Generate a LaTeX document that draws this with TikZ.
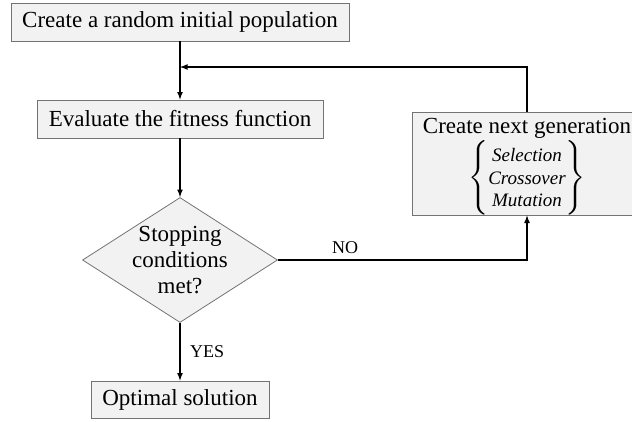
\documentclass[tikz,border=0pt]{standalone}
\usepackage{fontspec}
\setmainfont{Liberation Serif}
\usepackage{amsmath}
\usetikzlibrary{shapes.geometric}

\begin{document}
\begin{tikzpicture}[x=1pt, y=1pt, font=\fontsize{23}{26}\selectfont,
    box/.style={draw=black!55, fill=black!5, line width=0.8pt, inner sep=2pt},
    flow/.style={line width=1.6pt, -latex},
    tag/.style={font=\fontsize{18}{20}\selectfont}]
  \useasboundingbox (0,0) rectangle (632,-421);
  \begin{scope}
  \clip (0,0) rectangle (632,-421);
  \node[box, minimum width=338, minimum height=38] (init) at (180,-22) {Create a random initial population};
  \node[box, minimum width=286, minimum height=38] (eval) at (180,-119) {Evaluate the fitness function};
  \node[box, diamond, minimum width=195, minimum height=125, inner sep=0pt] (stop) at (180,-260) {};
  \node[align=center, inner sep=0pt] (stoptext) at (stop.center) {Stopping\\conditions\\met?};
  \node[box, minimum width=230, minimum height=103] (next) at (527,-163.5) {};
  \node[inner sep=0pt] (nexttitle) at (527,-128) {Create next generation};
  \node[inner sep=0pt] (ops) at (527,-178)
    {$\left\{\text{\fontsize{19}{22.5}\selectfont\itshape\begin{tabular}{@{}c@{}}Selection\\
       Crossover\\
       Mutation\end{tabular}}\right\}$};
  \node[box, minimum width=178, minimum height=37] (opt) at (180,-399.5) {Optimal solution};
  \coordinate (join) at (180,-67);
  \draw[flow] (init) -- (eval);
  \draw[flow] (next.north) |- (join);
  \draw[flow] (eval) -- (stop);
  \draw[flow] (stop.east) -| node[pos=0.135, above, yshift=2pt, tag] (no) {NO} (next.south);
  \draw[flow] (stop.south) -- node[right, xshift=6pt, tag] (yes) {YES} (opt.north);
  \end{scope}
\end{tikzpicture}
\end{document}
